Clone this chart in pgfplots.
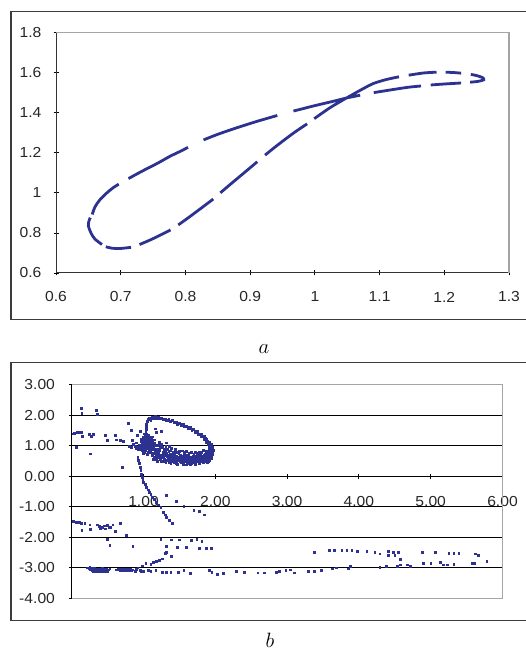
\documentclass[border=0pt]{standalone}
\usepackage{fontspec}
\setmainfont{Liberation Sans}
\usepackage{pgfplots}
\pgfplotsset{compat=1.18}
\definecolor{ser}{RGB}{45,50,145}
\definecolor{boxgray}{RGB}{165,165,165}
\definecolor{framegray}{RGB}{60,60,60}

\pgfplotstableread{
x y
0.13 2.22
0.14 2.06
0.34 2.17
0.35 2.03
0.02 1.40
0.04 1.42
0.06 1.43
0.08 1.44
0.10 1.45
0.13 1.45
0.15 1.31
0.06 0.96
0.24 1.37
0.27 1.31
0.30 1.37
0.26 0.74
0.47 1.35
0.50 1.18
0.61 1.35
0.62 1.20
0.67 1.18
0.72 1.15
0.70 0.31
0.79 1.75
0.83 1.51
0.84 1.18
0.91 1.35
0.95 1.49
0.83 0.96
0.88 0.98
0.86 1.05
0.90 1.10
0.80 0.98
0.95 0.95
0.97 1.00
0.98 0.92
1.00 0.88
1.00 1.05
1.01 1.12
1.02 0.97
1.02 1.20
1.03 1.30
1.03 0.85
1.04 1.05
1.04 1.40
1.05 0.95
1.05 1.15
1.06 1.25
1.06 0.80
1.07 1.00
1.07 1.35
1.08 0.90
1.08 1.10
1.09 1.20
1.10 0.85
1.10 1.05
1.11 0.95
1.12 1.15
1.12 0.75
1.13 1.00
1.14 0.90
1.15 1.08
1.16 0.80
0.99 1.18
0.98 1.08
1.01 0.80
0.96 0.88
0.97 1.15
1.00 1.25
1.02 1.35
1.03 1.48
1.04 1.55
0.93 0.90
0.90 0.93
0.88 0.98
0.96 0.98
0.98 1.02
0.99 0.96
1.00 0.94
1.01 1.00
1.02 1.08
1.03 1.14
1.03 0.92
1.04 0.98
1.04 1.24
1.05 1.08
1.05 1.32
1.06 1.02
1.06 1.18
1.07 0.92
1.08 1.28
1.09 1.02
1.09 0.96
1.10 1.14
1.11 1.22
1.11 0.88
1.13 1.08
1.02 1.28
1.01 1.40
1.03 1.38
0.99 1.30
0.97 1.22
0.94 1.02
0.92 0.96
0.98 0.85
1.00 0.75
1.05 0.72
1.08 0.80
1.035 1.65
1.04 1.72
1.05 1.80
1.07 1.87
1.09 1.92
1.12 1.94
1.15 0.62
1.18 0.55
1.20 0.72
1.22 0.85
1.24 0.60
1.25 0.48
1.27 0.78
1.28 0.52
1.30 0.68
1.31 0.45
1.33 0.88
1.34 0.58
1.35 0.50
1.37 0.72
1.38 0.42
1.40 0.62
1.41 0.80
1.43 0.55
1.44 0.48
1.46 0.66
1.47 0.40
1.49 0.75
1.50 0.55
1.52 0.45
1.53 0.62
1.55 0.38
1.56 0.70
1.58 0.52
1.59 0.60
1.61 0.44
1.62 0.68
1.64 0.55
1.65 0.40
1.67 0.62
1.68 0.50
1.70 0.72
1.71 0.45
1.73 0.58
1.74 0.65
1.76 0.48
1.77 0.56
1.79 0.70
1.80 0.52
1.82 0.62
1.83 0.45
1.85 0.58
1.86 0.68
1.88 0.55
1.89 0.62
1.90 0.72
1.91 0.58
1.92 0.66
1.93 0.78
1.94 0.85
1.93 0.92
1.90 0.50
1.87 0.48
1.84 0.52
1.78 0.42
1.72 0.40
1.66 0.47
1.60 0.38
1.54 0.50
1.48 0.60
1.42 0.45
1.36 0.64
1.32 0.75
1.26 0.70
1.21 0.62
1.17 0.70
1.19 0.88
1.23 0.95
1.29 0.90
1.35 0.82
1.39 0.92
1.45 0.78
1.51 0.70
1.57 0.78
1.63 0.75
1.69 0.65
1.75 0.75
1.81 0.80
1.87 0.82
1.92 0.88
1.95 0.80
1.96 0.72
1.95 0.65
1.94 0.58
1.92 0.52
1.89 0.46
1.12 0.68
1.14 0.55
1.16 0.74
1.18 0.64
1.19 0.50
1.21 0.80
1.23 0.55
1.24 0.70
1.26 0.62
1.27 0.50
1.29 0.58
1.30 0.82
1.32 0.52
1.33 0.64
1.35 0.58
1.36 0.46
1.38 0.55
1.39 0.68
1.40 0.50
1.42 0.60
1.43 0.70
1.45 0.52
1.46 0.44
1.48 0.52
1.49 0.64
1.51 0.48
1.52 0.58
1.54 0.66
1.55 0.45
1.57 0.55
1.58 0.64
1.60 0.50
1.61 0.58
1.63 0.48
1.64 0.62
1.66 0.55
1.67 0.44
1.69 0.52
1.70 0.60
1.72 0.50
1.73 0.66
1.75 0.55
1.76 0.62
1.78 0.52
1.79 0.60
1.81 0.48
1.82 0.56
1.84 0.64
1.85 0.50
1.87 0.60
1.88 0.68
1.90 0.60
1.91 0.66
1.93 0.62
1.94 0.72
1.95 0.75
1.92 0.74
1.90 0.82
1.89 0.76
1.86 0.74
1.84 0.70
1.80 0.66
1.77 0.68
1.71 0.56
1.65 0.64
1.59 0.68
1.53 0.55
1.47 0.56
1.41 0.58
1.34 0.68
1.28 0.64
1.22 0.68
1.16 0.88
1.14 0.98
1.18 1.02
1.26 0.96
1.31 0.98
1.38 0.86
1.44 0.90
1.50 0.82
1.54 0.84
1.60 0.82
1.66 0.80
1.72 0.78
1.78 0.80
1.83 0.86
1.20 1.02
1.25 1.05
1.15 1.20
1.25 1.48
1.16 1.56
1.32 1.10
1.36 1.00
1.18 1.45
1.12 1.30
1.22 1.12
1.08 1.90
1.12 1.95
1.16 1.96
1.20 1.95
1.25 1.92
1.30 1.89
1.35 1.86
1.40 1.83
1.45 1.79
1.50 1.75
1.55 1.71
1.60 1.66
1.65 1.60
1.70 1.54
1.75 1.47
1.80 1.39
1.84 1.31
1.88 1.22
1.91 1.13
1.94 1.04
1.96 0.95
1.97 0.86
1.96 0.76
1.94 0.68
1.10 1.85
1.14 1.89
1.18 1.90
1.22 1.89
1.27 1.86
1.32 1.83
1.37 1.80
1.42 1.76
1.47 1.72
1.52 1.68
1.57 1.63
1.62 1.58
1.67 1.52
1.72 1.45
1.76 1.38
1.80 1.30
1.84 1.22
1.87 1.13
1.90 1.05
1.92 0.96
1.93 0.87
1.92 0.78
1.14 1.93
1.24 1.90
1.34 1.85
1.44 1.78
1.54 1.70
1.64 1.59
1.74 1.46
1.82 1.32
1.89 1.17
1.94 1.00
1.95 0.82
1.09 1.87
1.11 1.92
1.15 1.95
1.19 1.93
1.23 1.91
1.28 1.88
1.33 1.85
1.38 1.82
1.43 1.78
1.48 1.74
1.53 1.70
1.58 1.65
1.63 1.60
1.68 1.54
1.73 1.47
1.78 1.40
1.82 1.33
1.86 1.25
1.89 1.17
1.92 1.08
1.95 0.99
1.96 0.90
1.96 0.82
1.95 0.74
0.92 0.63
0.93 0.52
0.94 0.42
0.95 0.30
0.96 0.20
0.97 0.08
0.98 -0.02
0.99 -0.13
1.00 -0.19
1.02 -0.27
1.04 -0.35
1.06 -0.44
1.08 -0.52
1.10 -0.60
1.12 -0.68
1.15 -0.76
1.18 -0.84
1.21 -0.93
1.24 -1.01
1.27 -1.17
1.30 -1.26
1.32 -1.34
1.36 -1.44
1.40 -1.53
1.32 -0.62
1.45 -0.82
1.56 -0.97
1.70 -1.12
1.78 -1.15
1.84 -1.26
0.02 -1.47
0.04 -1.49
0.06 -1.52
0.08 -1.49
0.10 -1.50
0.13 -1.55
0.14 -1.77
0.18 -1.55
0.25 -1.59
0.26 -1.74
0.35 -1.59
0.38 -1.64
0.40 -1.70
0.43 -1.66
0.45 -1.62
0.47 -1.72
0.50 -1.61
0.52 -1.68
0.54 -1.66
0.57 -1.59
0.61 -1.79
0.67 -1.55
0.49 -2.05
0.53 -2.26
0.76 -1.94
0.85 -2.29
1.24 -2.05
1.39 -2.08
1.50 -2.08
1.66 -2.10
1.74 -2.07
1.81 -2.13
1.32 -2.30
1.47 -2.32
1.59 -2.32
1.78 -2.35
1.87 -2.35
1.94 -2.35
1.39 -2.63
1.32 -2.48
0.92 -3.00
0.98 -2.93
1.03 -2.85
1.10 -2.87
1.14 -2.81
1.18 -2.79
1.22 -2.74
1.26 -2.70
1.30 -2.52
0.22 -3.00
0.24 -3.03
0.25 -2.99
0.26 -3.05
0.27 -3.02
0.28 -3.07
0.29 -3.00
0.30 -3.04
0.31 -3.09
0.32 -3.02
0.33 -3.06
0.34 -3.10
0.35 -3.03
0.36 -3.07
0.37 -3.11
0.38 -3.04
0.39 -3.08
0.40 -3.12
0.41 -3.05
0.42 -3.09
0.43 -3.02
0.44 -3.07
0.45 -3.11
0.46 -3.04
0.47 -3.08
0.48 -3.03
0.49 -3.10
0.51 -3.06
0.53 -3.03
0.30 -3.10
0.36 -3.12
0.42 -3.13
0.62 -3.06
0.65 -3.04
0.67 -3.08
0.69 -3.05
0.71 -3.07
0.73 -3.04
0.75 -3.08
0.77 -3.05
0.79 -3.07
0.81 -3.04
0.83 -3.08
0.85 -3.06
0.88 -3.10
0.90 -3.05
0.95 -3.08
0.96 -3.12
1.00 -3.11
1.06 -3.08
1.10 -3.12
1.17 -3.08
1.26 -3.14
1.32 -3.14
1.38 -3.14
1.48 -3.14
1.56 -3.08
1.65 -3.19
1.92 -3.08
1.95 -3.14
2.03 -3.22
2.11 -3.17
2.29 -3.11
2.40 -3.14
2.59 -3.16
2.68 -3.16
2.85 -3.14
2.89 -3.11
2.98 -3.08
3.04 -3.06
3.10 -3.16
3.29 -3.12
3.38 -3.12
3.48 -3.08
3.63 -3.03
3.68 -3.00
3.85 -3.03
3.88 -2.94
4.29 -2.98
4.38 -2.95
4.53 -2.94
4.57 -2.90
4.67 -2.90
4.72 -2.95
4.90 -2.85
5.00 -2.85
5.13 -2.81
5.17 -2.90
5.23 -2.90
5.32 -2.89
5.58 -2.85
5.61 -2.85
3.38 -2.50
3.59 -2.43
3.66 -2.43
3.76 -2.43
3.83 -2.43
3.90 -2.43
3.98 -2.46
4.11 -2.46
4.22 -2.50
4.29 -2.54
4.41 -2.46
4.48 -2.48
4.55 -2.48
4.41 -2.59
4.50 -2.59
4.57 -2.73
4.88 -2.48
5.06 -2.48
5.25 -2.52
5.32 -2.52
5.39 -2.52
5.62 -2.54
5.66 -2.59
5.78 -2.78
}\scatterb

\begin{document}
\begin{tikzpicture}[x=1pt,y=1pt]
\path[use as bounding box] (0pt,0pt) rectangle (526pt,658pt);
% outer frames (right side runs off the page)
\draw[framegray, line width=1.3pt] (528pt,646.3pt) -- (11pt,646.3pt) -- (11pt,338.7pt) -- (528pt,338.7pt);
\draw[framegray, line width=1.3pt] (528pt,295.3pt) -- (11pt,295.3pt) -- (11pt,37.3pt) -- (528pt,37.3pt);

\pgfplotsset{
  every axis/.append style={scale only axis, clip=false,
    /pgf/number format/assume math mode=true,
    tick label style={font=\fontsize{14.5}{16}\selectfont, text=black!85, inner sep=0pt, xscale=1.08},
    major tick length=5pt, tick style={black, line width=0.8pt}, tick align=outside},
}

% ---- panel a ----
\begin{axis}[at={(56pt,385pt)}, anchor=south west, width=453pt, height=240.5pt,
  xmin=0.6, xmax=1.3, ymin=0.6, ymax=1.8,
  xtick={0.6,0.7,0.8,0.9,1,1.1,1.2,1.3},
  ytick={0.6,0.8,1,1.2,1.4,1.6,1.8},
  axis lines=left, axis line style={-, black!80, line width=1pt},
  xticklabel style={anchor=center, yshift=-21.5pt},
  yticklabel style={anchor=east, xshift=-11pt},
]
\draw[boxgray, line width=1.3pt] (rel axis cs:0,1) -- (rel axis cs:1,1) -- (rel axis cs:1,0);
\addplot[ser, line width=2.8pt, smooth, tension=0.5, unbounded coords=jump] coordinates {
(0.671,0.742) (0.660,0.770) (0.654,0.800) (0.650,0.836) (0.651,0.860) (0.653,0.876)
(nan,nan)
(0.656,0.892) (0.660,0.928) (0.667,0.962) (0.678,0.998) (0.689,1.027) (0.697,1.043)
(nan,nan)
(0.712,1.071) (0.733,1.108) (0.756,1.146) (0.776,1.182) (0.794,1.210) (0.804,1.227)
(nan,nan)
(0.828,1.264) (0.850,1.292) (0.876,1.321) (0.910,1.356) (0.942,1.386)
(nan,nan)
(0.967,1.408) (1.000,1.435) (1.030,1.458) (1.050,1.474) (1.070,1.487)
(nan,nan)
(1.091,1.500) (1.120,1.515) (1.145,1.527) (1.164,1.533)
(nan,nan)
(1.179,1.538) (1.200,1.543) (1.226,1.548)
(nan,nan)
(1.240,1.552) (1.252,1.556) (1.261,1.564) (1.259,1.575) (1.250,1.585) (1.241,1.591)
(nan,nan)
(1.226,1.597) (1.215,1.600) (1.202,1.602)
(nan,nan)
(1.188,1.602) (1.168,1.598) (1.145,1.587)
(nan,nan)
(1.130,1.579) (1.110,1.565) (1.090,1.545) (1.076,1.522) (1.062,1.497) (1.045,1.466) (1.025,1.428) (1.010,1.395) (0.999,1.370)
(nan,nan)
(0.988,1.344) (0.970,1.305) (0.952,1.262) (0.936,1.222) (0.923,1.188)
(nan,nan)
(0.911,1.155) (0.890,1.098) (0.870,1.044) (0.854,1.000)
(nan,nan)
(0.843,0.969) (0.825,0.925) (0.805,0.877) (0.789,0.840)
(nan,nan)
(0.777,0.815) (0.760,0.787) (0.745,0.764) (0.729,0.742)
(nan,nan)
(0.716,0.728) (0.698,0.722) (0.686,0.724) (0.677,0.731)
};
\end{axis}

% ---- panel b ----
\begin{axis}[at={(71.7pt,59.7pt)}, anchor=south west, width=430.8pt, height=213.5pt,
  xmin=0, xmax=6, ymin=-4, ymax=3,
  xtick={0,1,2,3,4,5,6}, ytick={-4,-3,-2,-1,0,1,2,3},
  axis x line=middle, axis y line=left, axis line style={-, black, line width=1pt},
  ymajorgrids, grid style={black, line width=0.8pt},
  /pgf/number format/.cd, fixed, fixed zerofill, precision=2, /pgfplots/.cd,
  xticklabel shift=17pt,
  yticklabel style={anchor=east, xshift=-13pt},
]
\draw[boxgray, line width=1.3pt] (rel axis cs:0,1) -- (rel axis cs:1,1) -- (rel axis cs:1,0) -- (rel axis cs:0,0);
\addplot[only marks, mark=square*, mark size=0.9pt, ser] table[x=x, y=y] {\scatterb};
\end{axis}

\node[font=\fontsize{21}{24}\selectfont] at (264pt,309pt) {$a$};
\node[font=\fontsize{21}{24}\selectfont] at (270pt,18pt) {$b$};
\end{tikzpicture}
\end{document}
